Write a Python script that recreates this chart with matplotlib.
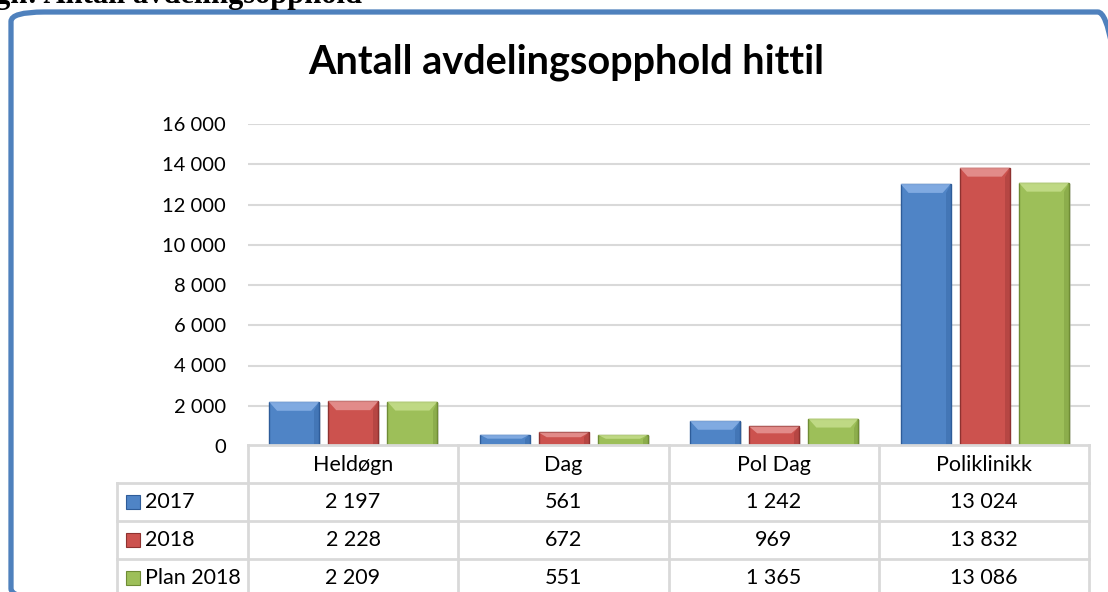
# -*- coding: utf-8 -*-

import numpy as np
import matplotlib.pyplot as plt
from matplotlib.patches import FancyBboxPatch, Rectangle, Polygon
from matplotlib.lines import Line2D

categories = ['Heldøgn', 'Dag', 'Pol Dag', 'Poliklinikk']
series = ['2017', '2018', 'Plan 2018']
v2017 = [2197, 561, 1242, 13024]
v2018 = [2228, 672, 969, 13832]
vplan = [2209, 551, 1365, 13086]
yticks = [0, 2000, 4000, 6000, 8000, 10000, 12000, 14000, 16000]

colors = ['#4F84C6', '#CC524E', '#9DBF59']
dark = ['#2E5C99', '#8E3230', '#6F8C35']
light = ['#8DB4E8', '#E89A98', '#C8E08F']

W, H = 1108, 592
FONT = ['Lato', 'DejaVu Sans']
plt.rcParams['font.family'] = FONT


def fx(px):
    return px / W


def fy(py):
    return 1 - py / H


def fmt(v):
    return '{:,}'.format(v).replace(',', ' ')


def main():
    fig = plt.figure(figsize=(W / 100, H / 100), dpi=100)
    fig.patch.set_facecolor('white')

    # caption above the frame, mostly cut off by the top edge
    fig.text(fx(-22), fy(3), 'ngn: Antall avdelingsopphold', family='Liberation Serif',
             fontsize=22, fontweight='bold', ha='left', va='baseline')

    # rounded blue frame (runs off right and bottom)
    frame = FancyBboxPatch((fx(11), fy(598)), fx(1131 - 11), (598 - 12) / H,
                           boxstyle='round,pad=0,rounding_size=0.03',
                           transform=fig.transFigure, fill=False,
                           edgecolor='#4F81BD', linewidth=3.8, mutation_aspect=H / W)
    fig.patches.append(frame)

    fig.text(fx(566), fy(62), 'Antall avdelingsopphold hittil', fontsize=28.5,
             fontweight='bold', ha='center', va='center')

    # bar axes
    ax = fig.add_axes([fx(248), fy(446), fx(1090 - 248), (446 - 124) / H])
    ax.set_xlim(0, 4)
    ax.set_ylim(0, 16000)
    for s in ax.spines.values():
        s.set_visible(False)
    ax.set_xticks([])
    ax.set_yticks(yticks)
    ax.set_yticklabels([fmt(t) for t in yticks], fontsize=14.5)
    ax.tick_params(axis='y', length=0, pad=16)
    for t in yticks[1:]:
        ax.axhline(t, color='#D9D9D9', linewidth=1.5, zorder=0)

    x = np.arange(len(categories)) + 0.5
    width = 50 / 210
    step = 59 / 210
    px_per_unit = 322 / 16000
    for k, vals in enumerate([v2017, v2018, vplan]):
        xs = x + (k - 1) * step
        for xi, v in zip(xs, vals):
            # shadow
            ax.add_patch(Rectangle((xi - width / 2 + 0.008, 0), width, v - 60,
                                   facecolor='#BFBFBF', alpha=0.5, zorder=1, linewidth=0))
            ax.bar(xi, v, width=width, color=colors[k], edgecolor=dark[k],
                   linewidth=1, zorder=2)
            bev = min(9 / px_per_unit, v * 0.35)
            bx = width * 0.16
            top = Polygon([(xi - width / 2, v), (xi + width / 2, v),
                           (xi + width / 2 - bx, v - bev), (xi - width / 2 + bx, v - bev)],
                          closed=True, facecolor=light[k], edgecolor='none', alpha=0.8, zorder=3)
            ax.add_patch(top)
            side = Polygon([(xi + width / 2, v), (xi + width / 2, 0),
                            (xi + width / 2 - bx * 0.6, 0), (xi + width / 2 - bx * 0.6, v - bev)],
                           closed=True, facecolor=dark[k], edgecolor='none', alpha=0.35, zorder=3)
            ax.add_patch(side)

    # data table
    grid = '#D9D9D9'
    rows_y = [445, 483, 521, 559, 597]
    cols_x = [248, 458, 669, 879, 1089]
    left = 117
    lines = []
    lines.append(Line2D([fx(248), fx(1089)], [fy(445)] * 2))
    for ry in rows_y[1:]:
        lines.append(Line2D([fx(left), fx(1089)], [fy(ry)] * 2))
    for cx in cols_x:
        lines.append(Line2D([fx(cx)] * 2, [fy(445), fy(600)]))
    lines.append(Line2D([fx(left)] * 2, [fy(483), fy(600)]))
    for ln in lines:
        ln.set_transform(fig.transFigure)
        ln.set_color(grid)
        ln.set_linewidth(2)
        fig.lines.append(ln)

    for i, c in enumerate(categories):
        cxm = (cols_x[i] + cols_x[i + 1]) / 2
        fig.text(fx(cxm), fy(465), c, fontsize=15.5, ha='center', va='center')

    for r, (name, vals) in enumerate(zip(series, [v2017, v2018, vplan])):
        cy = (rows_y[r + 1] + rows_y[r + 2]) / 2
        fig.patches.append(Rectangle((fx(126), fy(cy + 7)), fx(14), 14 / H,
                                     transform=fig.transFigure, facecolor=colors[r],
                                     edgecolor=dark[r], linewidth=0.8))
        fig.text(fx(145), fy(cy), name, fontsize=15.5, ha='left', va='center')
        for i, v in enumerate(vals):
            cxm = (cols_x[i] + cols_x[i + 1]) / 2
            fig.text(fx(cxm), fy(cy), fmt(v), fontsize=15.5, ha='center', va='center')

    fig.savefig('out.png', dpi=100)


if __name__ == '__main__':
    main()
